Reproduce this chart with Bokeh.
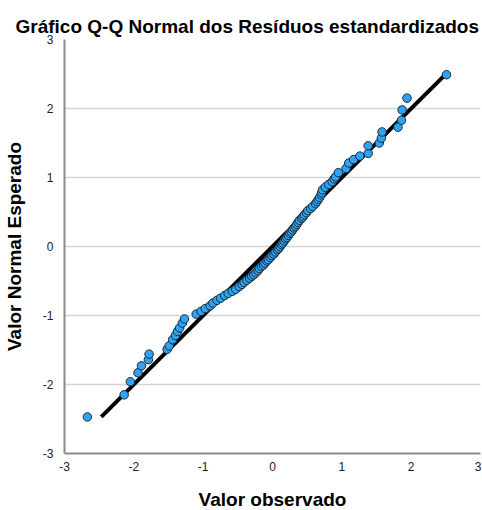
from bokeh.plotting import figure
from bokeh.models import Range1d, FixedTicker, Title, PrintfTickFormatter
from bokeh.embed import file_html
from bokeh.resources import INLINE

# Observed standardized residuals (x) and expected normal values (y)
observed = [
    -2.67, -2.14, -2.05, -1.94, -1.89, -1.79, -1.78, -1.52, -1.49, -1.44,
    -1.40, -1.37, -1.34, -1.30, -1.27, -1.10, -1.03, -0.97, -0.90, -0.86,
    -0.80, -0.75, -0.69, -0.64, -0.58, -0.53, -0.48, -0.44, -0.41, -0.37,
    -0.33, -0.30, -0.27, -0.24, -0.21, -0.19, -0.16, -0.13, -0.11, -0.08,
    -0.06, -0.03, -0.01, 0.02, 0.04, 0.07, 0.09, 0.11, 0.13, 0.15,
    0.17, 0.19, 0.21, 0.23, 0.25, 0.27, 0.29, 0.31, 0.33, 0.35,
    0.37, 0.39, 0.42, 0.44, 0.46, 0.49, 0.51, 0.55, 0.58, 0.62,
    0.64, 0.66, 0.68, 0.70, 0.71, 0.72, 0.76, 0.81, 0.86, 0.89,
    0.91, 0.95, 1.06, 1.10, 1.17, 1.26, 1.38, 1.38, 1.54, 1.57,
    1.58, 1.81, 1.86, 1.87, 1.94, 2.51,
]
expected = [
    -2.47, -2.15, -1.96, -1.83, -1.73, -1.64, -1.56, -1.49, -1.44, -1.35,
    -1.29, -1.23, -1.18, -1.11, -1.05, -0.98, -0.94, -0.90, -0.86, -0.82,
    -0.78, -0.75, -0.71, -0.68, -0.65, -0.62, -0.58, -0.55, -0.52, -0.49,
    -0.46, -0.43, -0.41, -0.38, -0.35, -0.32, -0.29, -0.27, -0.24, -0.21,
    -0.19, -0.16, -0.13, -0.11, -0.08, -0.05, -0.03, 0.00, 0.03, 0.05,
    0.08, 0.11, 0.13, 0.16, 0.19, 0.21, 0.24, 0.27, 0.29, 0.32,
    0.35, 0.38, 0.41, 0.43, 0.46, 0.49, 0.52, 0.55, 0.58, 0.62,
    0.65, 0.68, 0.71, 0.75, 0.78, 0.82, 0.86, 0.90, 0.94, 0.98,
    1.01, 1.07, 1.13, 1.21, 1.26, 1.31, 1.35, 1.46, 1.50, 1.57,
    1.66, 1.73, 1.83, 1.98, 2.15, 2.49,
]
ref_line = [-2.47, 2.47]
ticks = [-3, -2, -1, 0, 1, 2, 3]

FONT = "Liberation Sans"

p = figure(
    output_backend="svg", toolbar_location=None,
    frame_width=416, frame_height=414,
    min_border_left=57, min_border_right=1, min_border_top=39, min_border_bottom=50,
    x_range=Range1d(-3, 3), y_range=Range1d(-3, 3),
    outline_line_color=None, background_fill_color="white",
)

p.title = Title(text="Gráfico Q-Q Normal dos Resíduos estandardizados",
                align="left", offset=-49, text_font=FONT,
                text_font_size="19px", text_font_style="bold",
                text_color="#000000", standoff=6)

p.line(ref_line, ref_line, line_color="black", line_width=4)
p.scatter(observed, expected, size=8.5, marker="circle",
          fill_color="#2fa3f2", line_color="#1a2a3a", line_width=1)

p.xgrid.visible = False
p.ygrid.ticker = FixedTicker(ticks=ticks)
p.ygrid.grid_line_color = "#d4d4d4"
p.ygrid.grid_line_width = 1.5

for ax in (p.xaxis[0], p.yaxis[0]):
    ax.ticker = FixedTicker(ticks=ticks)
    ax.formatter = PrintfTickFormatter(format="%d")
    ax.axis_line_color = "#8c8c8c"
    ax.axis_line_width = 2
    ax.major_tick_line_color = None
    ax.minor_tick_line_color = None
    ax.major_label_text_font = FONT
    ax.major_label_text_font_size = "12px"
    ax.major_label_text_color = "#222222"
    ax.axis_label_text_font = FONT
    ax.axis_label_text_font_size = "19px"
    ax.axis_label_text_font_style = "bold"
    ax.axis_label_text_color = "#000000"

p.xaxis.major_label_standoff = 2
p.yaxis.major_label_standoff = 5
p.xaxis.axis_label = "Valor observado"
p.yaxis.axis_label = "Valor Normal Esperado"
p.xaxis.axis_label_standoff = 15
p.yaxis.axis_label_standoff = 15

open("out.html", "w").write(file_html(p, INLINE))
